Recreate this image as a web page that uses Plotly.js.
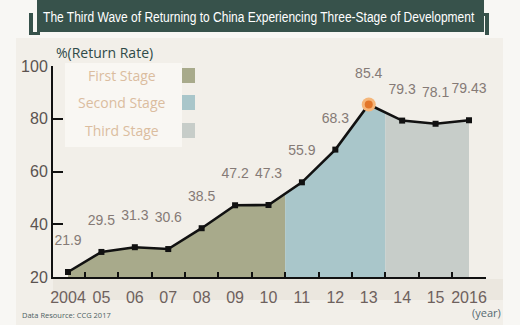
<!DOCTYPE html>
<html>
<head>
<meta charset="utf-8">
<script src="https://cdn.plot.ly/plotly-3.0.1.min.js"></script>
<style>html,body{margin:0;padding:0;background:#f7f6f2;}#chart{width:520px;height:325px;}</style>
</head>
<body>
<div id="chart"></div>
<script>
// ---- data ----
const years = [2004, 2005, 2006, 2007, 2008, 2009, 2010, 2011, 2012, 2013, 2014, 2015, 2016];
const rates = [21.9, 29.5, 31.3, 30.6, 38.5, 47.2, 47.3, 55.9, 68.3, 85.4, 79.3, 78.1, 79.43];
const tickLabels = ['2004', '05', '06', '07', '08', '09', '10', '11', '12', '13', '14', '15', '2016'];
const stageNames = ['First Stage', 'Second Stage', 'Third Stage'];
const stageBreaks = [2004, 2010.5, 2013.5, 2016];
const yTicks = [20, 40, 60, 80, 100];
const titleText = 'The Third Wave of Returning to China Experiencing Three-Stage of Development';
const yTitle = '%(Return Rate)';
const xUnit = '(year)';
const sourceText = 'Data Resource: CCG 2017';

// ---- styles ----
const stageColors = ['#a8aa8b', '#a9c6ca', '#c7cdc9'];
const W = 520, H = 325;
const M = {l: 53, r: 34, t: 66, b: 48};
const PW = W - M.l - M.r, PH = H - M.t - M.b;
const X = px => (px - M.l) / PW;
const Y = py => (H - M.b - py) / PH;

function interp(x) {
  for (let i = 0; i < years.length - 1; i++) {
    if (x >= years[i] && x <= years[i + 1]) {
      const t = (x - years[i]) / (years[i + 1] - years[i]);
      return rates[i] + t * (rates[i + 1] - rates[i]);
    }
  }
  return rates[rates.length - 1];
}

const traces = [];
for (let s = 0; s < stageNames.length; s++) {
  const a = stageBreaks[s], b = stageBreaks[s + 1];
  const xs = [a];
  years.forEach(y => { if (y > a && y < b) xs.push(y); });
  xs.push(b);
  traces.push({
    x: xs, y: xs.map(interp), type: 'scatter', mode: 'lines',
    fill: 'tozeroy', fillcolor: stageColors[s], line: {width: 0, color: stageColors[s]},
    hoverinfo: 'skip', showlegend: false
  });
}
traces.push({
  x: years, y: rates, type: 'scatter', mode: 'lines+markers',
  line: {color: '#111', width: 2.6},
  marker: {symbol: 'square', size: 6, color: '#111'},
  showlegend: false
});
const peak = rates.indexOf(Math.max(...rates));
traces.push({x: [years[peak]], y: [rates[peak]], type: 'scatter', mode: 'markers',
  marker: {size: 14, color: '#f5b67a'}, showlegend: false});
traces.push({x: [years[peak]], y: [rates[peak]], type: 'scatter', mode: 'markers',
  marker: {size: 8, color: '#e2762a'}, showlegend: false});
// value labels (an invisible large marker lifts the text above the point)
traces.push({x: years, y: rates, type: 'scatter', mode: 'markers+text',
  text: rates.map(String), textposition: 'top center', cliponaxis: false,
  marker: {size: 36, opacity: 0},
  textfont: {family: 'Liberation Sans, Arial', size: 14, color: '#857a76'},
  hoverinfo: 'skip', showlegend: false});
// invisible trace for the tick-mark axis
traces.push({x: [years[0]], y: [rates[0]], xaxis: 'x2', type: 'scatter', mode: 'markers',
  marker: {opacity: 0}, hoverinfo: 'skip', showlegend: false});

const xRange = [2003.551, 2016.509];

const annotations = [];
annotations.push({xref: 'paper', yref: 'paper', x: X(258.5), y: Y(17), text: titleText,
  showarrow: false, xanchor: 'center', yanchor: 'middle',
  font: {family: 'Liberation Sans, Arial', size: 15, color: '#ffffff'}});
annotations.push({xref: 'paper', yref: 'paper', x: X(54), y: Y(53), text: yTitle,
  showarrow: false, xanchor: 'left', yanchor: 'middle',
  font: {family: 'Open Sans', size: 14, color: '#2f4a48'}});
const legY = [75, 102, 130];
stageNames.forEach((n, i) => {
  annotations.push({xref: 'paper', yref: 'paper', x: X(122), y: Y(legY[i]), text: n,
    showarrow: false, xanchor: 'center', yanchor: 'middle',
    font: {family: 'Open Sans', size: 14, color: '#dbbd9f'}});
});
annotations.push({xref: 'paper', yref: 'paper', x: X(486), y: Y(312), text: xUnit,
  showarrow: false, xanchor: 'center', yanchor: 'middle',
  font: {family: 'Open Sans', size: 11, color: '#566a72'}});
annotations.push({xref: 'paper', yref: 'paper', x: X(20), y: Y(315), text: sourceText,
  showarrow: false, xanchor: 'left', yanchor: 'middle',
  font: {family: 'Open Sans', size: 7.5, color: '#4e5f63'}});

const rect = (x0, y0, x1, y1, color, layer) => ({type: 'rect', xref: 'paper', yref: 'paper',
  x0: X(x0), x1: X(x1), y0: Y(y1), y1: Y(y0), fillcolor: color, line: {width: 0}, layer: layer || 'below'});

const shapes = [
  rect(16, 38, 503, 325, '#f2efe9'),
  rect(53, 279, 503, 300, '#ebe7df'),
  rect(37, 0, 484, 32, '#37524b', 'above'),
  rect(29, 13, 33, 35, '#37524b', 'above'),
  rect(29, 32, 40, 35, '#37524b', 'above'),
  rect(485, 13, 489, 35, '#37524b', 'above'),
  rect(482, 13, 489, 16, '#37524b', 'above'),
  rect(65, 63, 182, 147, 'rgba(250,248,244,0.85)', 'below'),
  rect(182, 68, 195, 83, stageColors[0], 'above'),
  rect(182, 95, 195, 110, stageColors[1], 'above'),
  rect(182, 123, 195, 138, stageColors[2], 'above')
];

const layout = {
  width: W, height: H, margin: M,
  paper_bgcolor: '#f8f7f4', plot_bgcolor: 'rgba(0,0,0,0)',
  showlegend: false,
  xaxis: {range: xRange, showline: true, linecolor: '#111', linewidth: 2,
    tickvals: years, ticktext: tickLabels, ticks: '', showgrid: false, zeroline: false,
    tickfont: {family: 'Liberation Sans, Arial', size: 16, color: '#6e615d'}, ticklabelstandoff: 5,
    fixedrange: true},
  xaxis2: {range: xRange, overlaying: 'x', anchor: 'y', side: 'bottom', showline: false,
    tickvals: years.map(y => y + 0.5), ticks: 'inside', ticklen: 5, tickwidth: 2, tickcolor: '#111',
    showticklabels: false, showgrid: false, zeroline: false},
  yaxis: {range: [20, 100], showline: true, linecolor: '#111', linewidth: 2,
    tickvals: yTicks, ticks: 'inside', ticklen: 10, tickwidth: 2, tickcolor: '#111',
    showgrid: false, zeroline: false,
    tickfont: {family: 'Liberation Sans, Arial', size: 16, color: '#5b5350'}},
  annotations: annotations,
  shapes: shapes
};

Plotly.newPlot('chart', traces, layout, {displayModeBar: false, staticPlot: true}).then(gd => {
  // squeeze the banner title horizontally (the original uses a condensed face)
  gd.querySelectorAll('.annotation-text').forEach(t => {
    if (t.textContent === titleText) {
      const bb = t.getBBox();
      const sx = 432 / bb.width;
      const cx = bb.x + bb.width / 2;
      const prev = t.getAttribute('transform') || '';
      t.setAttribute('transform', prev + ' translate(' + cx + ',0) scale(' + sx + ',1) translate(' + (-cx) + ',0)');
    }
  });
});
</script>
</body>
</html>
